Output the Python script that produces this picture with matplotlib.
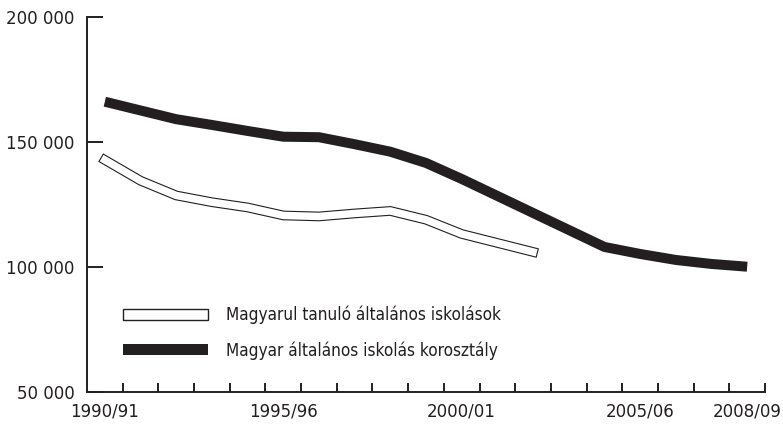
import matplotlib
matplotlib.use('Agg')
import matplotlib.pyplot as plt
import matplotlib.patheffects as pe
import matplotlib.patches as mpatches
from matplotlib import font_manager

seasons = ['1990/91', '1991/92', '1992/93', '1993/94', '1994/95', '1995/96',
           '1996/97', '1997/98', '1998/99', '1999/00', '2000/01', '2001/02',
           '2002/03', '2003/04', '2004/05', '2005/06', '2006/07', '2007/08',
           '2008/09']
shown_labels = ['1990/91', '1995/96', '2000/01', '2005/06', '2008/09']

# Magyar általános iskolás korosztály
korosztaly = [166000, 162500, 159000, 156700, 154300, 152000, 151800, 149000,
              146000, 141500, 135100, 128300, 121500, 114700, 107900, 105100,
              102700, 101100, 100000]
# Magyarul tanuló általános iskolások (1990/91 - 2002/03)
tanulo = [142700, 134400, 128500, 125800, 123700, 120500, 120100, 121300,
          122300, 118800, 113100, 109500, 105900]

label_tanulo = 'Magyarul tanuló általános iskolások'
label_korosztaly = 'Magyar általános iskolás korosztály'

names = {f.name for f in font_manager.fontManager.ttflist}
if 'Liberation Sans Narrow' in names:
    plt.rcParams['font.family'] = ['Liberation Sans Narrow', 'DejaVu Sans']
else:
    plt.rcParams['font.family'] = ['DejaVu Sans']
    plt.rcParams['font.stretch'] = 'condensed'

ink = '#231f20'
fs = 13.3
fs_leg = 12.3

fig = plt.figure(figsize=(7.83, 4.25), dpi=100)
ax = fig.add_axes([87 / 783, 1 - 391.7 / 425, (765 - 87) / 783, (391.7 - 16.7) / 425])

x_k = list(range(len(korosztaly)))
x_t = list(range(len(tanulo)))

ax.plot(x_k, korosztaly, color=ink, lw=7.2, solid_joinstyle='miter',
        solid_capstyle='butt', zorder=3)
ax.plot(x_t, tanulo, color='white', lw=5.4, solid_capstyle='projecting',
        solid_joinstyle='miter', zorder=3,
        path_effects=[pe.Stroke(linewidth=7.0, foreground=ink,
                                capstyle='projecting', joinstyle='miter'),
                      pe.Normal()])

ax.set_xlim(-0.5, len(seasons) - 0.5)
ax.set_ylim(50000, 200000)

for s in ['top', 'right']:
    ax.spines[s].set_visible(False)
for s in ['left', 'bottom']:
    ax.spines[s].set_linewidth(1.4)
    ax.spines[s].set_color(ink)

# tick marks sit between seasons, labels at season centres
ax.set_xticks([i + 0.5 for i in range(len(seasons))])
ax.set_xticklabels([])
ax.tick_params(axis='x', which='major', direction='in', length=6.5, width=1.4, color=ink)
ax.set_xticks([seasons.index(s) for s in shown_labels], minor=True)
ax.set_xticklabels(shown_labels, minor=True)
ax.tick_params(axis='x', which='minor', length=0, pad=8, labelsize=fs, labelcolor=ink)

yticks = [50000, 100000, 150000, 200000]
ax.set_yticks(yticks)
ax.set_yticklabels([f'{v:,}'.replace(',', ' ') for v in yticks])
ax.tick_params(axis='y', direction='in', length=11.5, width=1.4, color=ink,
               pad=9, labelsize=fs, labelcolor=ink)

handles = [mpatches.Patch(facecolor='white', edgecolor=ink, lw=1.0),
           mpatches.Patch(facecolor=ink, edgecolor=ink, lw=0)]
ax.legend(handles, [label_tanulo, label_korosztaly], loc='upper left',
          bbox_to_anchor=(122.7 / 783, 1 - 306 / 425), bbox_transform=fig.transFigure,
          frameon=False, fontsize=fs_leg, borderpad=0, borderaxespad=0,
          handlelength=4.97, handleheight=0.58, handletextpad=1.05,
          labelspacing=0.98, labelcolor=ink)

fig.savefig('out.png', dpi=100)
